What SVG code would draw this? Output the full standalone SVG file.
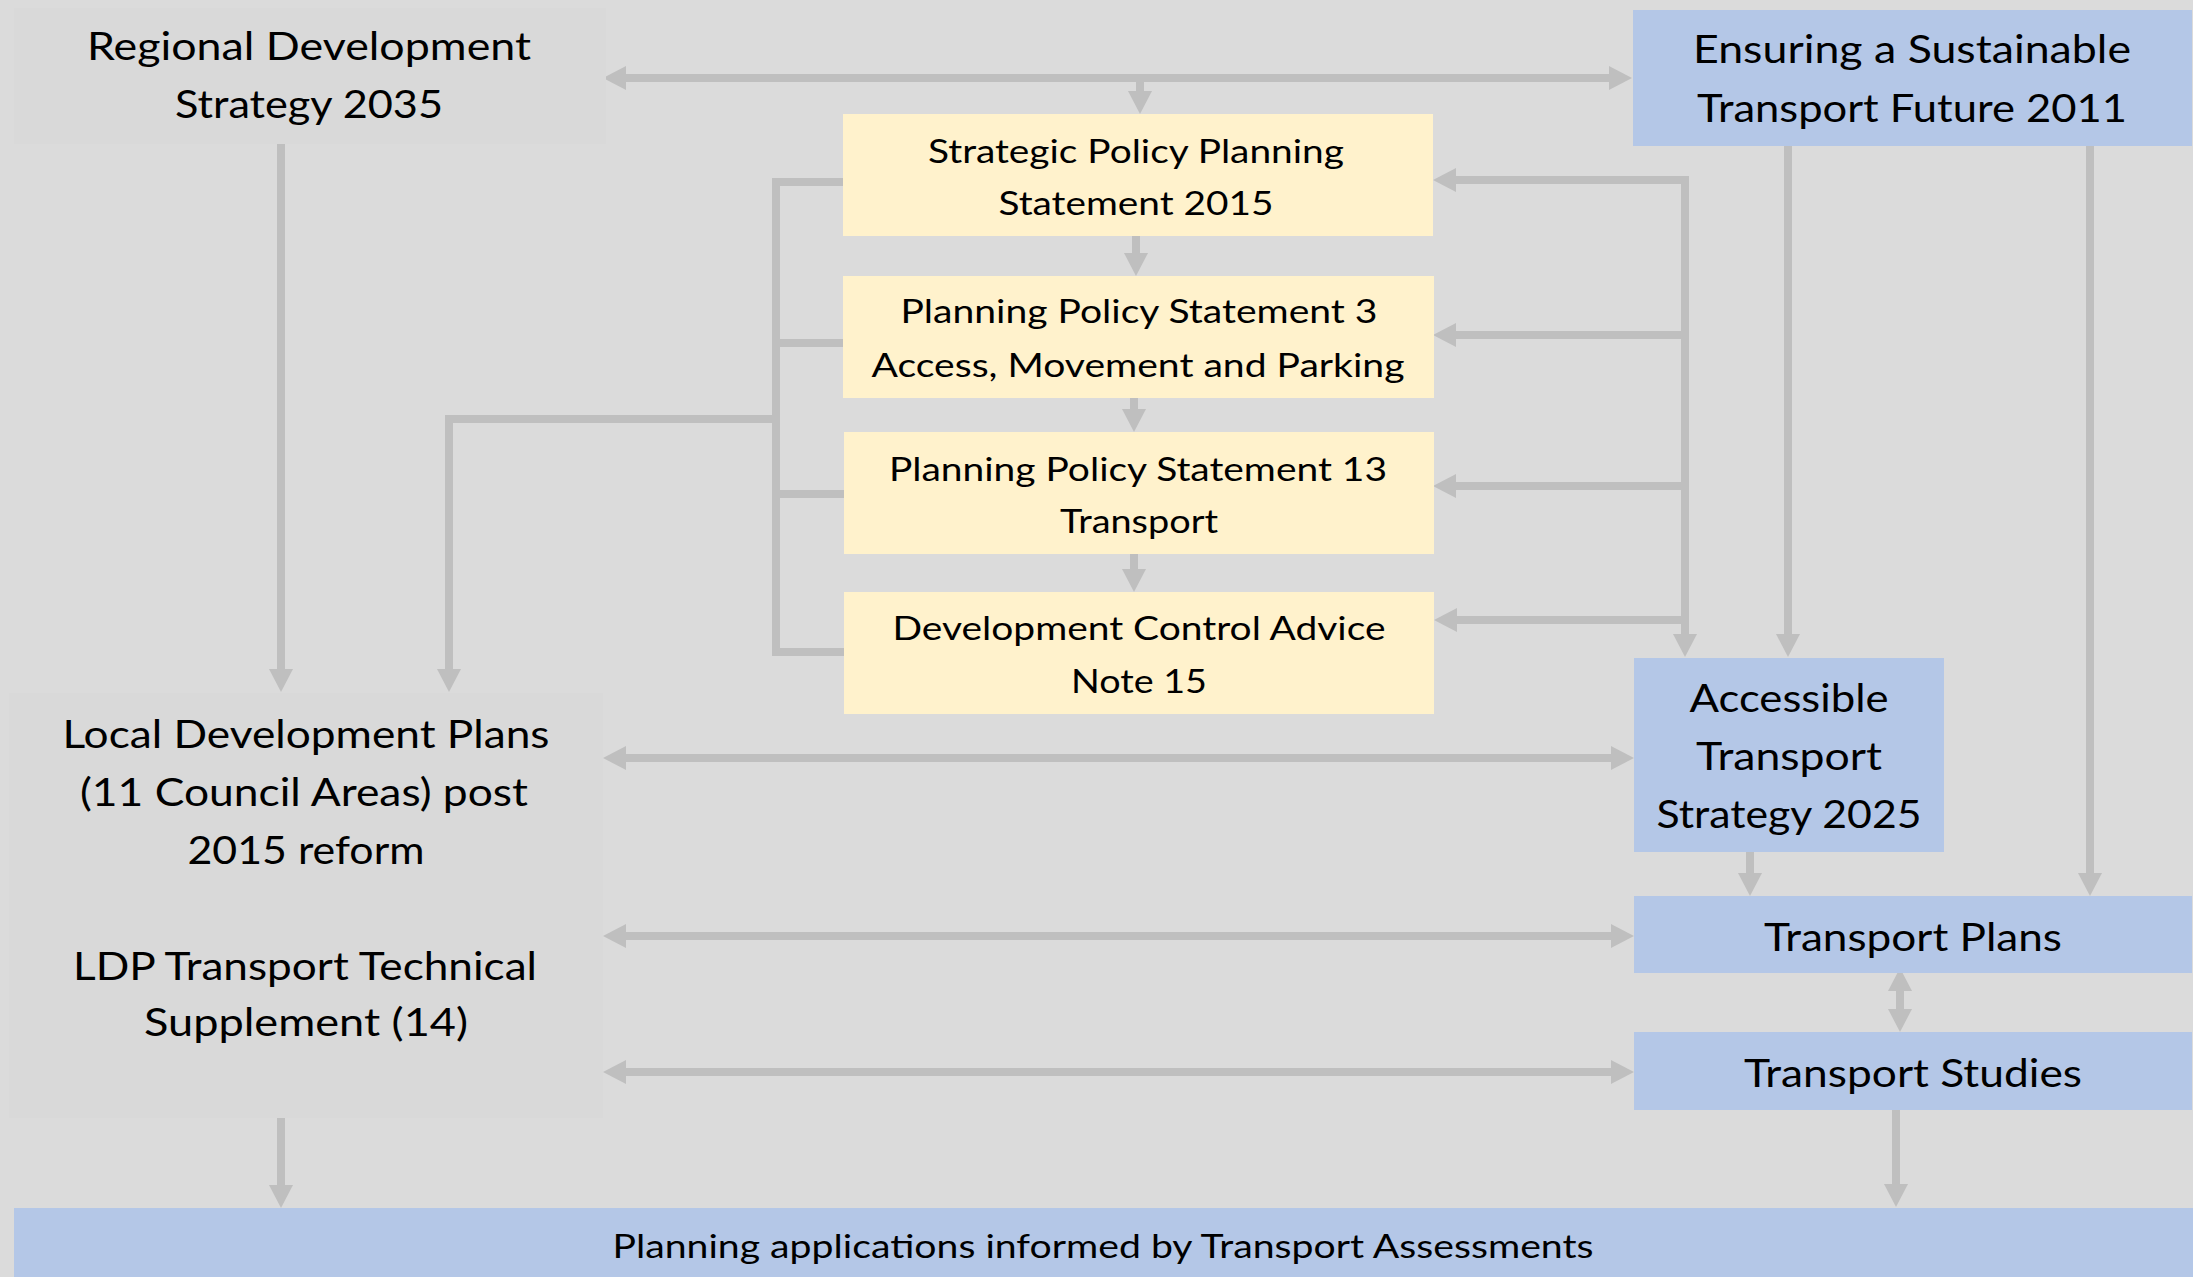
<svg xmlns="http://www.w3.org/2000/svg" width="2193" height="1277" viewBox="0 0 2193 1277">
  <style>
    .bg { fill: #dbdbdb; }
    .grey { fill: #d9d9d9; }
    .yellow { fill: #fff2cc; }
    .blue { fill: #b4c7e7; }
    text { font-family: Lato, "Open Sans", "Liberation Sans", sans-serif; fill: #000; text-anchor: middle; }
    .big { font-size: 39px; }
    .small { font-size: 32px; }
    .conn { stroke: #bfbfbf; stroke-width: 8; fill: none; stroke-linecap: butt; }
    .end { marker-end: url(#head); }
    .both { marker-start: url(#head); marker-end: url(#head); }
  </style>
  <defs>
    <!-- arrowhead: base sits on the line end, tip 23px further on -->
    <marker id="head" markerUnits="userSpaceOnUse" viewBox="0 -12 23 24" refX="0" refY="0" markerWidth="23" markerHeight="24" orient="auto-start-reverse">
      <path d="M0,-12 L23,0 L0,12 Z" fill="#bfbfbf"/>
    </marker>
  </defs>

  <rect class="bg" x="0" y="0" width="2193" height="1277"/>

  <!-- connectors -->
  <g id="connectors">
    <!-- RDS <-> ESTF, with branch down to SPPS -->
    <line class="conn both" x1="626" y1="78" x2="1609" y2="78"/>
    <line class="conn end" x1="1140" y1="78" x2="1140" y2="91"/>
    <!-- chain through the policy statements -->
    <line class="conn end" x1="1136" y1="236" x2="1136" y2="253"/>
    <line class="conn end" x1="1134" y1="398" x2="1134" y2="409"/>
    <line class="conn end" x1="1134" y1="554" x2="1134" y2="569"/>
    <!-- right bus feeding the policy statements and the accessible strategy -->
    <line class="conn end" x1="1689" y1="180" x2="1456" y2="180"/>
    <line class="conn end" x1="1689" y1="335" x2="1456" y2="335"/>
    <line class="conn end" x1="1689" y1="486" x2="1456" y2="486"/>
    <line class="conn end" x1="1689" y1="620" x2="1457" y2="620"/>
    <line class="conn end" x1="1685" y1="176" x2="1685" y2="634"/>
    <!-- left bus gathering the policy statements into the LDPs -->
    <line class="conn" x1="776" y1="178" x2="776" y2="656"/>
    <line class="conn" x1="772" y1="182" x2="843" y2="182"/>
    <line class="conn" x1="772" y1="343" x2="843" y2="343"/>
    <line class="conn" x1="772" y1="494" x2="844" y2="494"/>
    <line class="conn" x1="772" y1="652" x2="844" y2="652"/>
    <path class="conn end" d="M776,419 H449 V669"/>
    <!-- RDS down to LDPs -->
    <line class="conn end" x1="281" y1="144" x2="281" y2="669"/>
    <!-- LDPs <-> transport documents -->
    <line class="conn both" x1="626" y1="758" x2="1611" y2="758"/>
    <line class="conn both" x1="626" y1="936" x2="1611" y2="936"/>
    <line class="conn both" x1="626" y1="1072" x2="1611" y2="1072"/>
    <!-- ESTF down -->
    <line class="conn end" x1="1788" y1="146" x2="1788" y2="634"/>
    <line class="conn end" x1="2090" y1="146" x2="2090" y2="873"/>
    <!-- ATS to plans, plans <-> studies -->
    <line class="conn end" x1="1750" y1="852" x2="1750" y2="873"/>
    <line class="conn both" x1="1900" y1="991" x2="1900" y2="1009"/>
    <!-- down to planning applications -->
    <line class="conn end" x1="1896" y1="1110" x2="1896" y2="1184"/>
    <line class="conn end" x1="281" y1="1118" x2="281" y2="1185"/>
  </g>

  <g id="rds">
    <rect class="grey" x="14" y="8" width="592" height="136"/>
    <text class="big" x="309" y="60" textLength="444" lengthAdjust="spacingAndGlyphs">Regional Development</text>
    <text class="big" x="309" y="118" textLength="268" lengthAdjust="spacingAndGlyphs">Strategy 2035</text>
  </g>

  <g id="estf">
    <rect class="blue" x="1633" y="10" width="559" height="136"/>
    <text class="big" x="1912" y="63" textLength="438" lengthAdjust="spacingAndGlyphs">Ensuring a Sustainable</text>
    <text class="big" x="1912" y="122" textLength="430" lengthAdjust="spacingAndGlyphs">Transport Future 2011</text>
  </g>

  <g id="spps">
    <rect class="yellow" x="843" y="114" width="590" height="122"/>
    <text class="small" x="1136" y="163" textLength="416" lengthAdjust="spacingAndGlyphs">Strategic Policy Planning</text>
    <text class="small" x="1136" y="215" textLength="275" lengthAdjust="spacingAndGlyphs">Statement 2015</text>
  </g>

  <g id="pps3">
    <rect class="yellow" x="843" y="276" width="591" height="122"/>
    <text class="small" x="1139" y="323" textLength="477" lengthAdjust="spacingAndGlyphs">Planning Policy Statement 3</text>
    <text class="small" x="1138" y="377" textLength="533" lengthAdjust="spacingAndGlyphs">Access, Movement and Parking</text>
  </g>

  <g id="pps13">
    <rect class="yellow" x="844" y="432" width="590" height="122"/>
    <text class="small" x="1138" y="481" textLength="498" lengthAdjust="spacingAndGlyphs">Planning Policy Statement 13</text>
    <text class="small" x="1139" y="533" textLength="158" lengthAdjust="spacingAndGlyphs">Transport</text>
  </g>

  <g id="dcan15">
    <rect class="yellow" x="844" y="592" width="590" height="122"/>
    <text class="small" x="1139" y="640" textLength="493" lengthAdjust="spacingAndGlyphs">Development Control Advice</text>
    <text class="small" x="1139" y="693" textLength="136" lengthAdjust="spacingAndGlyphs">Note 15</text>
  </g>

  <g id="ldp">
    <rect class="grey" x="9" y="693" width="594" height="425"/>
    <text class="big" x="306" y="748" textLength="487" lengthAdjust="spacingAndGlyphs">Local Development Plans</text>
    <text class="big" x="304" y="806" textLength="448" lengthAdjust="spacingAndGlyphs">(11 Council Areas) post</text>
    <text class="big" x="306" y="864" textLength="237" lengthAdjust="spacingAndGlyphs">2015 reform</text>
    <text class="big" x="305" y="980" textLength="464" lengthAdjust="spacingAndGlyphs">LDP Transport Technical</text>
    <text class="big" x="306" y="1036" textLength="324" lengthAdjust="spacingAndGlyphs">Supplement (14)</text>
  </g>

  <g id="ats">
    <rect class="blue" x="1634" y="658" width="310" height="194"/>
    <text class="big" x="1789" y="712" textLength="199" lengthAdjust="spacingAndGlyphs">Accessible</text>
    <text class="big" x="1789" y="770" textLength="186" lengthAdjust="spacingAndGlyphs">Transport</text>
    <text class="big" x="1789" y="828" textLength="265" lengthAdjust="spacingAndGlyphs">Strategy 2025</text>
  </g>

  <g id="transport-plans">
    <rect class="blue" x="1634" y="896" width="558" height="77"/>
    <text class="big" x="1913" y="951" textLength="298" lengthAdjust="spacingAndGlyphs">Transport Plans</text>
  </g>

  <g id="transport-studies">
    <rect class="blue" x="1634" y="1032" width="558" height="78"/>
    <text class="big" x="1913" y="1087" textLength="338" lengthAdjust="spacingAndGlyphs">Transport Studies</text>
  </g>

  <g id="planning-applications">
    <rect class="blue" x="14" y="1208" width="2179" height="69"/>
    <text class="small" x="1103" y="1258" textLength="981" lengthAdjust="spacingAndGlyphs">Planning applications informed by Transport Assessments</text>
  </g>
</svg>
